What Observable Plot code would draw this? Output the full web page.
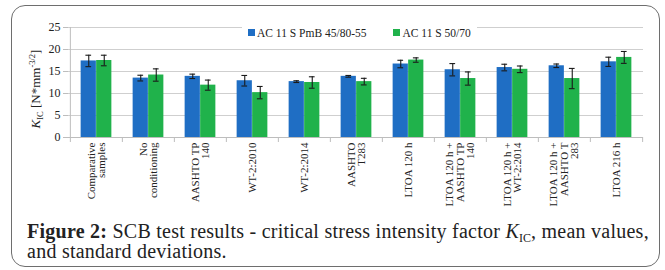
<!DOCTYPE html>
<html><head><meta charset="utf-8">
<script src="https://cdn.jsdelivr.net/npm/d3@7"></script>
<script src="https://cdn.jsdelivr.net/npm/@observablehq/plot@0.6"></script>
<style>
body{margin:0;width:665px;height:270px;background:#fff;position:relative;overflow:hidden;font-family:"Liberation Serif","Times New Roman",serif;}
#frame{position:absolute;left:11px;top:5px;width:649px;height:262px;border:1.6px solid #6e6e6e;border-radius:14px;box-sizing:border-box;}
#chart{position:absolute;left:0;top:0;}
#legend{position:absolute;left:242px;top:26px;background:#fff;padding:0 6px;font-size:11.5px;color:#222;display:flex;gap:27px;white-space:nowrap;line-height:14px;}
#legend span.sw{display:inline-block;width:7px;height:7px;margin-right:2px;vertical-align:1px;}
#caption{position:absolute;left:27px;top:221px;font-size:20px;line-height:20px;letter-spacing:0.25px;color:#222;white-space:nowrap;}
#caption i{font-style:italic;}
#caption sub{font-size:12px;vertical-align:-4px;line-height:0;letter-spacing:0;}
</style></head>
<body>
<div id="frame"></div>
<div id="chart"></div>
<div id="legend"></div>
<div id="caption"><b>Figure 2:</b> SCB test results - critical stress intensity factor <i>K</i><sub>IC</sub>, mean values,<br>and standard deviations.</div>
<script>
const categories = ["Comparative\nsamples","No\nconditioning","AASHTO TP\n140","WT-2:2010","WT-2:2014","AASHTO\nT283","LTOA 120 h","LTOA 120 h +\nAASHTO TP\n140","LTOA 120 h +\nWT-2:2014","LTOA 120 h +\nAASHTO T\n283","LTOA 216 h"];
const series = ["AC 11 S PmB 45/80-55","AC 11 S 50/70"];
const colors = ["#1f6ec4","#20b24b"];
const pmbMean = [17.4,13.5,13.9,12.9,12.7,13.9,16.7,15.4,15.9,16.3,17.2];
const pmbSD   = [1.3,0.65,0.5,1.2,0.2,0.2,0.85,1.4,0.75,0.4,1.05];
const bMean   = [17.5,14.2,11.9,10.2,12.5,12.7,17.6,13.4,15.5,13.4,18.2];
const bSD     = [1.2,1.4,1.15,1.4,1.3,0.75,0.5,1.5,0.75,2.3,1.35];
const yTicks = [0,5,10,15,20,25];

const W = 665, H = 215, ML = 68, MR = 22, MT = 27, MB = 78;
const bw = (W - ML - MR) / categories.length;
const barW = 15.5;

const data = [];
categories.forEach((c,i)=>{
  data.push({cat:c, s:series[0], v:pmbMean[i], sd:pmbSD[i], k:0});
  data.push({cat:c, s:series[1], v:bMean[i], sd:bSD[i], k:1});
});
const d0 = data.filter(d=>d.k===0), d1 = data.filter(d=>d.k===1);
const off = [-barW/2, barW/2];

const errMarks = [d0,d1].flatMap((dd,k)=>[
  Plot.ruleX(dd,{x:"cat", y1:d=>d.v-d.sd, y2:d=>d.v+d.sd, dx:off[k], stroke:"#1a1a1a", strokeWidth:1.1}),
  Plot.tickY(dd,{x:"cat", y:d=>d.v+d.sd, dx:off[k], insetLeft:bw/2-3, insetRight:bw/2-3, stroke:"#1a1a1a", strokeWidth:1.1}),
  Plot.tickY(dd,{x:"cat", y:d=>d.v-d.sd, dx:off[k], insetLeft:bw/2-3, insetRight:bw/2-3, stroke:"#1a1a1a", strokeWidth:1.1})
]);

const plot = Plot.plot({
  width: W, height: H, marginLeft: ML, marginRight: MR, marginTop: MT, marginBottom: MB,
  style: {fontFamily: '"Liberation Serif","Times New Roman",serif', color:"#222", background:"transparent"},
  x: {domain: categories, padding: 0, axis: null},
  y: {domain: [0,25], axis: null},
  marks: [
    Plot.gridY(yTicks.slice(1), {stroke:"#cfcfcf", strokeOpacity:1, strokeWidth:1}),
    Plot.axisY(yTicks, {tickSize:5, tickPadding:3, stroke:"#bdbdbd", fontSize:12, label:null}),
    Plot.ruleX([categories[0]], {x:d=>d, y1:0, y2:25, dx:-bw/2, stroke:"#bdbdbd"}),
    Plot.barY(d0, {x:"cat", y:"v", fill:colors[0], insetLeft:bw/2-barW, insetRight:bw/2}),
    Plot.barY(d1, {x:"cat", y:"v", fill:colors[1], insetLeft:bw/2, insetRight:bw/2-barW}),
    ...errMarks,
    Plot.ruleY([0], {stroke:"#bdbdbd"}),
    Plot.ruleX(categories, {x:d=>d, y1:0, y2:0, dx:-bw/2, insetBottom:-5, stroke:"#bdbdbd"}),
    Plot.ruleX([categories[categories.length-1]], {x:d=>d, y1:0, y2:0, dx:bw/2, insetBottom:-5, stroke:"#bdbdbd"}),
    Plot.axisX({tickSize:0, tickPadding:5, tickRotate:-90, textAnchor:"end", lineAnchor:"middle", fontSize:11, lineHeight:0.95, label:null})
  ]
});
document.getElementById("chart").appendChild(plot);

// y-axis label with sub/superscripts
const svg = d3.select(plot);
const lbl = svg.append("text")
  .attr("transform", `translate(40,${MT + 62}) rotate(-90)`)
  .attr("text-anchor","middle")
  .attr("font-size",13)
  .attr("fill","#222")
  .attr("font-family",'"Liberation Serif","Times New Roman",serif');
lbl.append("tspan").attr("font-style","italic").text("K");
lbl.append("tspan").attr("font-size",8.5).attr("dy",3).text("IC");
lbl.append("tspan").attr("dy",-3).text(" [N*mm");
lbl.append("tspan").attr("font-size",8.5).attr("dy",-5).text("-3/2");
lbl.append("tspan").attr("dy",5).text("]");

// legend
const leg = d3.select("#legend");
series.forEach((s,i)=>{
  const it = leg.append("div");
  it.append("span").attr("class","sw").style("background",colors[i]);
  it.append("span").text(s);
});
</script>
</body></html>
